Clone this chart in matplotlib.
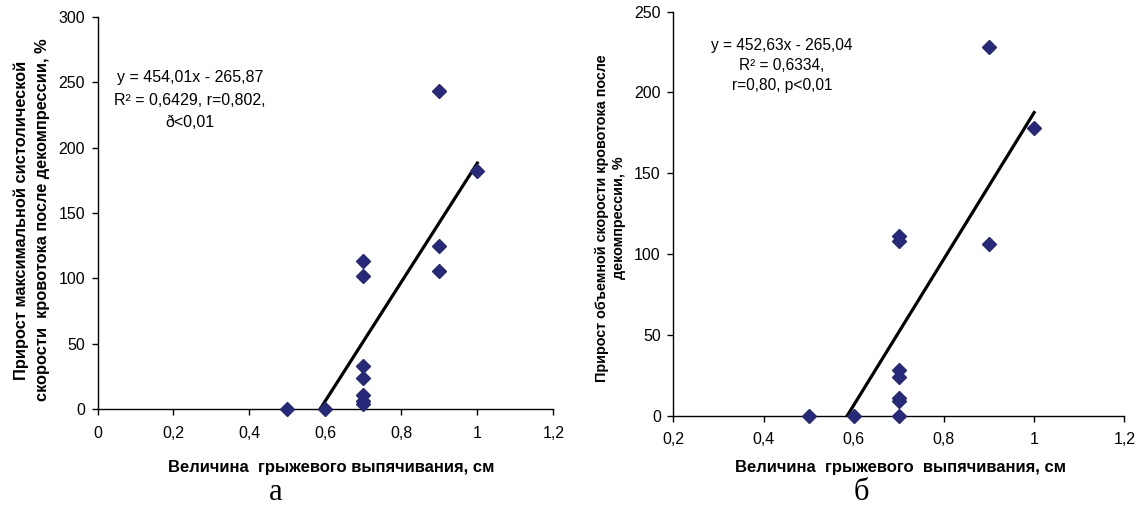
import matplotlib
matplotlib.use("Agg")
import matplotlib.pyplot as plt
from matplotlib.ticker import FuncFormatter

plt.rcParams['font.family'] = ['Liberation Sans', 'DejaVu Sans']

# panel a: прирост максимальной систолической скорости
xa = [0.5, 0.6, 0.7, 0.7, 0.7, 0.7, 0.7, 0.7, 0.7, 0.9, 0.9, 0.9, 1.0]
ya = [0, 0, 113, 102, 33, 24, 11, 6, 4, 243, 125, 106, 182]
slope_a, icpt_a = 454.01, -265.87

# panel b: прирост объемной скорости
xb = [0.5, 0.6, 0.7, 0.7, 0.7, 0.7, 0.7, 0.7, 0.7, 0.9, 0.9, 1.0]
yb = [0, 0, 0, 111, 108, 28, 24, 11, 9, 228, 106, 178]
slope_b, icpt_b = 452.63, -265.04

xlab_a = "Величина  грыжевого выпячивания, см"
xlab_b = "Величина  грыжевого  выпячивания, см"
ylab_a = "Прирост максимальной систолической\nскорости  кровотока после декомпрессии, %"
ylab_b = "Прирост объемной скорости кровотока после\nдекомпрессии, %"
eq_a = "y = 454,01x - 265,87\nR² = 0,6429, r=0,802,\nð<0,01"
eq_b = "y = 452,63x - 265,04\nR² = 0,6334,\nr=0,80, p<0,01"

mk = '#262878'
comma = FuncFormatter(lambda v, p: ('%g' % round(v, 2)).replace('.', ','))

fig = plt.figure(figsize=(11.38, 5.15), dpi=100)
ax1 = fig.add_axes([0.0857, 0.2052, 0.4005, 0.7623])
ax2 = fig.add_axes([0.5917, 0.1928, 0.3963, 0.7845])


def style(ax, xlim, ylim, xticks, yticks):
    ax.set_xlim(*xlim)
    ax.set_ylim(*ylim)
    ax.set_xticks(xticks)
    ax.set_yticks(yticks)
    ax.xaxis.set_major_formatter(comma)
    ax.spines[["top", "right"]].set_visible(False)
    for s in ["left", "bottom"]:
        ax.spines[s].set_linewidth(1.0)
    ax.tick_params(direction='out', length=4, width=1.0, labelsize=11.5,
                   colors='black', pad=5)
    ax.tick_params(axis='x', pad=8)


style(ax1, (0, 1.2), (0, 300), [0, 0.2, 0.4, 0.6, 0.8, 1.0, 1.2],
      range(0, 301, 50))
style(ax2, (0.2, 1.2), (0, 250), [0.2, 0.4, 0.6, 0.8, 1.0, 1.2],
      range(0, 251, 50))

for ax, x, y, k, b in [(ax1, xa, ya, slope_a, icpt_a), (ax2, xb, yb, slope_b, icpt_b)]:
    x0, x1 = min(x), max(x)
    ax.plot([x0, x1], [k * x0 + b, k * x1 + b], color='black', lw=2.3, zorder=2)
    ax.plot(x, y, 'D', color=mk, ms=6.8, clip_on=False, zorder=3)

ax1.text(0.2435, 259, eq_a, ha='center', va='top', fontsize=11.5,
         multialignment='center', linespacing=1.6)
ax2.text(0.441, 234, eq_b, ha='center', va='top', fontsize=11.2,
         multialignment='center', linespacing=1.45)

ax1.set_xlabel(xlab_a, fontsize=12, fontweight='bold', va='top')
ax1.xaxis.set_label_coords(0.512, -0.128)
ax2.set_xlabel(xlab_b, fontsize=12, fontweight='bold', va='top')
ax2.xaxis.set_label_coords(0.503, -0.11)

ax1.set_ylabel(ylab_a, fontsize=11.8, fontweight='bold', linespacing=1.45)
ax1.yaxis.set_label_coords(-0.105, 0.482)
ax2.set_ylabel(ylab_b, fontsize=10.4, fontweight='bold', linespacing=1.3)
ax2.yaxis.set_label_coords(-0.105, 0.489)

fig.text(0.2425, 0.03, "а", fontsize=22, family='Liberation Serif', ha='center', va='baseline')
fig.text(0.757, 0.03, "б", fontsize=22, family='Liberation Serif', ha='center', va='baseline')

fig.savefig("out.png", dpi=100)
